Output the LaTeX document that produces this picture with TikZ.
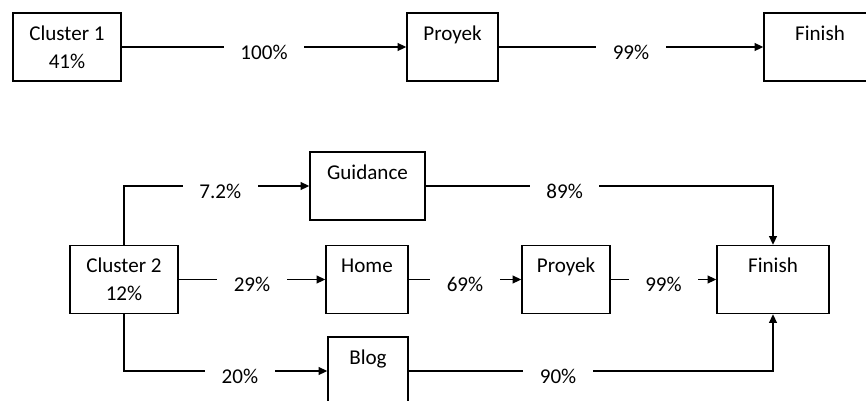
\documentclass[tikz,border=0pt]{standalone}
\usepackage{fontspec}
\setmainfont{Carlito}
\usepackage{tikz}
\usetikzlibrary{arrows.meta,positioning,calc}

\tikzset{
  box/.style={draw, line width=0.8pt, minimum width=#1, minimum height=1.36cm,
    inner sep=0pt, align=center, font=\fontsize{12}{16}\selectfont},
  pct/.style={fill=white, inner xsep=0.33cm, inner ysep=1pt, yshift=-0.1cm,
    font=\fontsize{12}{14}\selectfont},
  flow/.style={line width=0.8pt, -{Triangle[length=5pt,width=4.5pt]}}
}

\begin{document}
\begin{tikzpicture}[x=0.02cm, y=-0.02cm]

% Frame
\useasboundingbox (0,0) rectangle (866,400);
\clip (0,0) rectangle (866,400);

% Cluster 1 boxes
\node[box=2.16cm] (c1) at (67,47) {Cluster 1\\41\%};
\node[box=1.82cm] (p1) at (452.5,47) {Proyek\\\mbox{}};
\node[box=2.24cm] (f1) at (820,47) {Finish\\\mbox{}};

% Cluster 2 boxes
\node[box=2.16cm] (c2) at (124,279.5) {Cluster 2\\12\%};
\node[box=2.3cm] (g) at (367.5,186) {Guidance\\\mbox{}};
\node[box=1.64cm] (h) at (367,279.5) {Home\\\mbox{}};
\node[box=1.6cm] (b) at (368,371) {Blog\\\mbox{}};
\node[box=1.76cm] (p2) at (566,279.5) {Proyek\\\mbox{}};
\node[box=2.24cm] (f2) at (773,279.5) {Finish\\\mbox{}};

% Arrows, top
\draw[flow] (c1) -- node[pct] {100\%} (p1);
\draw[flow] (p1) -- node[pct] {99\%} (f1);

% Arrows, bottom
\draw[flow] (c2.north) |- node[pct, pos=0.76] {7.2\%} (g.west);
\draw[flow] (c2) -- node[pct] {29\%} (h);
\draw[flow] (c2.south) |- node[pct, pos=0.785] {20\%} (b.west);
\draw[flow] (h) -- node[pct] {69\%} (p2);
\draw[flow] (p2) -- node[pct] {99\%} (f2);
\draw[flow] (g.east) -| node[pct, pos=0.2] {89\%} (f2.north);
\draw[flow] (b.east) -| node[pct, pos=0.205] {90\%} (f2.south);

\end{tikzpicture}
\end{document}
